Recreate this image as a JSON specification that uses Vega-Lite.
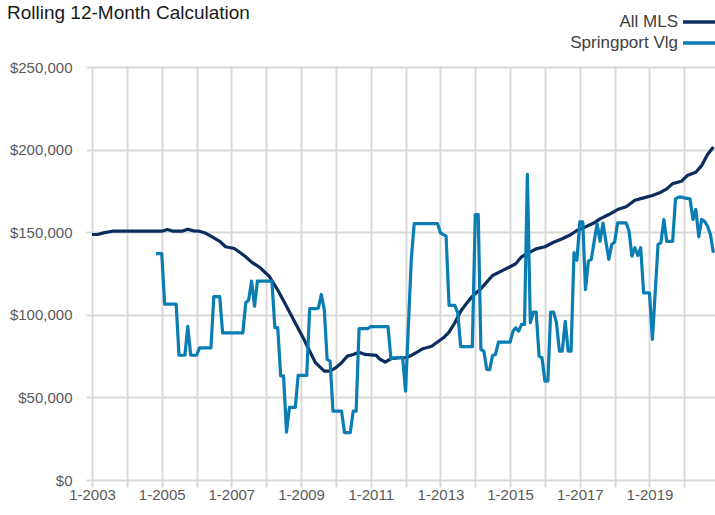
{
  "$schema": "https://vega.github.io/schema/vega-lite/v6.json",
  "autosize": {"type": "none"},
  "padding": {"left": 92, "top": 67, "right": 0, "bottom": 34},
  "width": 623,
  "height": 413,
  "background": "white",
  "config": {"font": "Liberation Sans, Arial, sans-serif", "view": {"stroke": null}},
  "title": {"text": "Rolling 12-Month Calculation", "anchor": "start", "frame": "group", "fontSize": 19, "fontWeight": "normal", "color": "#1a1a1a", "dx": -85, "dy": 11, "offset": 0},
  "data": {"values": [
    {"date":"2003-01-01","series":"All MLS","price":148600},
    {"date":"2003-03-01","series":"All MLS","price":148600},
    {"date":"2003-05-01","series":"All MLS","price":149600},
    {"date":"2003-08-01","series":"All MLS","price":150600},
    {"date":"2005-01-01","series":"All MLS","price":150600},
    {"date":"2005-03-01","series":"All MLS","price":151600},
    {"date":"2005-05-01","series":"All MLS","price":150600},
    {"date":"2005-08-01","series":"All MLS","price":150600},
    {"date":"2005-10-01","series":"All MLS","price":151800},
    {"date":"2005-12-01","series":"All MLS","price":150800},
    {"date":"2006-02-01","series":"All MLS","price":150600},
    {"date":"2006-04-01","series":"All MLS","price":149500},
    {"date":"2006-06-01","series":"All MLS","price":147600},
    {"date":"2006-09-01","series":"All MLS","price":144500},
    {"date":"2006-11-01","series":"All MLS","price":141200},
    {"date":"2007-02-01","series":"All MLS","price":140100},
    {"date":"2007-04-01","series":"All MLS","price":137700},
    {"date":"2007-06-01","series":"All MLS","price":135100},
    {"date":"2007-08-01","series":"All MLS","price":131900},
    {"date":"2007-11-01","series":"All MLS","price":128400},
    {"date":"2008-01-01","series":"All MLS","price":125000},
    {"date":"2008-02-01","series":"All MLS","price":123400},
    {"date":"2008-05-01","series":"All MLS","price":115000},
    {"date":"2008-08-01","series":"All MLS","price":105200},
    {"date":"2008-11-01","series":"All MLS","price":95000},
    {"date":"2009-02-01","series":"All MLS","price":85000},
    {"date":"2009-04-01","series":"All MLS","price":78000},
    {"date":"2009-06-01","series":"All MLS","price":71000},
    {"date":"2009-09-01","series":"All MLS","price":65900},
    {"date":"2009-11-01","series":"All MLS","price":65900},
    {"date":"2010-01-01","series":"All MLS","price":68000},
    {"date":"2010-03-01","series":"All MLS","price":71000},
    {"date":"2010-05-01","series":"All MLS","price":75000},
    {"date":"2010-07-01","series":"All MLS","price":76000},
    {"date":"2010-09-01","series":"All MLS","price":77400},
    {"date":"2010-11-01","series":"All MLS","price":76000},
    {"date":"2011-03-01","series":"All MLS","price":75400},
    {"date":"2011-04-01","series":"All MLS","price":73400},
    {"date":"2011-06-01","series":"All MLS","price":71400},
    {"date":"2011-08-01","series":"All MLS","price":73400},
    {"date":"2011-11-01","series":"All MLS","price":74000},
    {"date":"2012-01-01","series":"All MLS","price":74000},
    {"date":"2012-03-01","series":"All MLS","price":75400},
    {"date":"2012-05-01","series":"All MLS","price":77400},
    {"date":"2012-07-01","series":"All MLS","price":79500},
    {"date":"2012-10-01","series":"All MLS","price":81000},
    {"date":"2012-12-01","series":"All MLS","price":83500},
    {"date":"2013-02-01","series":"All MLS","price":86100},
    {"date":"2013-04-01","series":"All MLS","price":89500},
    {"date":"2013-06-01","series":"All MLS","price":95200},
    {"date":"2013-08-01","series":"All MLS","price":102200},
    {"date":"2013-10-01","series":"All MLS","price":106900},
    {"date":"2013-12-01","series":"All MLS","price":111300},
    {"date":"2014-03-01","series":"All MLS","price":115800},
    {"date":"2014-05-01","series":"All MLS","price":119800},
    {"date":"2014-07-01","series":"All MLS","price":123800},
    {"date":"2014-10-01","series":"All MLS","price":126400},
    {"date":"2015-01-01","series":"All MLS","price":129100},
    {"date":"2015-03-01","series":"All MLS","price":130900},
    {"date":"2015-05-01","series":"All MLS","price":135100},
    {"date":"2015-07-01","series":"All MLS","price":137100},
    {"date":"2015-10-01","series":"All MLS","price":139900},
    {"date":"2016-01-01","series":"All MLS","price":141200},
    {"date":"2016-04-01","series":"All MLS","price":143900},
    {"date":"2016-07-01","series":"All MLS","price":146000},
    {"date":"2016-10-01","series":"All MLS","price":148600},
    {"date":"2016-12-01","series":"All MLS","price":151000},
    {"date":"2017-03-01","series":"All MLS","price":153200},
    {"date":"2017-06-01","series":"All MLS","price":155700},
    {"date":"2017-08-01","series":"All MLS","price":158100},
    {"date":"2017-11-01","series":"All MLS","price":160700},
    {"date":"2018-02-01","series":"All MLS","price":163700},
    {"date":"2018-05-01","series":"All MLS","price":165400},
    {"date":"2018-08-01","series":"All MLS","price":169300},
    {"date":"2018-11-01","series":"All MLS","price":170800},
    {"date":"2019-02-01","series":"All MLS","price":172200},
    {"date":"2019-05-01","series":"All MLS","price":174200},
    {"date":"2019-07-01","series":"All MLS","price":176200},
    {"date":"2019-09-01","series":"All MLS","price":179400},
    {"date":"2019-12-01","series":"All MLS","price":180800},
    {"date":"2020-02-01","series":"All MLS","price":184300},
    {"date":"2020-05-01","series":"All MLS","price":186300},
    {"date":"2020-07-01","series":"All MLS","price":190300},
    {"date":"2020-09-01","series":"All MLS","price":197000},
    {"date":"2020-11-01","series":"All MLS","price":201600},
    {"date":"2004-11-01","series":"Springport Vlg","price":137000},
    {"date":"2004-12-01","series":"Springport Vlg","price":137000},
    {"date":"2005-01-01","series":"Springport Vlg","price":137000},
    {"date":"2005-02-01","series":"Springport Vlg","price":106500},
    {"date":"2005-03-01","series":"Springport Vlg","price":106500},
    {"date":"2005-04-01","series":"Springport Vlg","price":106500},
    {"date":"2005-05-01","series":"Springport Vlg","price":106500},
    {"date":"2005-06-01","series":"Springport Vlg","price":106500},
    {"date":"2005-07-01","series":"Springport Vlg","price":75500},
    {"date":"2005-08-01","series":"Springport Vlg","price":75500},
    {"date":"2005-09-01","series":"Springport Vlg","price":75500},
    {"date":"2005-10-01","series":"Springport Vlg","price":93000},
    {"date":"2005-11-01","series":"Springport Vlg","price":75500},
    {"date":"2005-12-01","series":"Springport Vlg","price":75500},
    {"date":"2006-01-01","series":"Springport Vlg","price":75500},
    {"date":"2006-02-01","series":"Springport Vlg","price":80000},
    {"date":"2006-03-01","series":"Springport Vlg","price":80000},
    {"date":"2006-04-01","series":"Springport Vlg","price":80000},
    {"date":"2006-05-01","series":"Springport Vlg","price":80000},
    {"date":"2006-06-01","series":"Springport Vlg","price":80000},
    {"date":"2006-07-01","series":"Springport Vlg","price":111000},
    {"date":"2006-08-01","series":"Springport Vlg","price":111000},
    {"date":"2006-09-01","series":"Springport Vlg","price":111000},
    {"date":"2006-10-01","series":"Springport Vlg","price":89000},
    {"date":"2006-11-01","series":"Springport Vlg","price":89000},
    {"date":"2006-12-01","series":"Springport Vlg","price":89000},
    {"date":"2007-01-01","series":"Springport Vlg","price":89000},
    {"date":"2007-02-01","series":"Springport Vlg","price":89000},
    {"date":"2007-03-01","series":"Springport Vlg","price":89000},
    {"date":"2007-04-01","series":"Springport Vlg","price":89000},
    {"date":"2007-05-01","series":"Springport Vlg","price":89000},
    {"date":"2007-06-01","series":"Springport Vlg","price":107300},
    {"date":"2007-07-01","series":"Springport Vlg","price":108900},
    {"date":"2007-08-01","series":"Springport Vlg","price":120400},
    {"date":"2007-09-01","series":"Springport Vlg","price":105200},
    {"date":"2007-10-01","series":"Springport Vlg","price":120400},
    {"date":"2007-11-01","series":"Springport Vlg","price":120400},
    {"date":"2007-12-01","series":"Springport Vlg","price":120400},
    {"date":"2008-01-01","series":"Springport Vlg","price":120400},
    {"date":"2008-02-01","series":"Springport Vlg","price":120400},
    {"date":"2008-03-01","series":"Springport Vlg","price":120400},
    {"date":"2008-04-01","series":"Springport Vlg","price":92200},
    {"date":"2008-05-01","series":"Springport Vlg","price":92200},
    {"date":"2008-06-01","series":"Springport Vlg","price":63000},
    {"date":"2008-07-01","series":"Springport Vlg","price":63000},
    {"date":"2008-08-01","series":"Springport Vlg","price":29000},
    {"date":"2008-09-01","series":"Springport Vlg","price":44000},
    {"date":"2008-10-01","series":"Springport Vlg","price":44000},
    {"date":"2008-11-01","series":"Springport Vlg","price":44000},
    {"date":"2008-12-01","series":"Springport Vlg","price":63300},
    {"date":"2009-01-01","series":"Springport Vlg","price":63300},
    {"date":"2009-02-01","series":"Springport Vlg","price":63300},
    {"date":"2009-03-01","series":"Springport Vlg","price":63300},
    {"date":"2009-04-01","series":"Springport Vlg","price":103700},
    {"date":"2009-05-01","series":"Springport Vlg","price":103700},
    {"date":"2009-06-01","series":"Springport Vlg","price":103700},
    {"date":"2009-07-01","series":"Springport Vlg","price":104000},
    {"date":"2009-08-01","series":"Springport Vlg","price":112300},
    {"date":"2009-09-01","series":"Springport Vlg","price":103200},
    {"date":"2009-10-01","series":"Springport Vlg","price":73000},
    {"date":"2009-11-01","series":"Springport Vlg","price":72000},
    {"date":"2009-12-01","series":"Springport Vlg","price":41700},
    {"date":"2010-01-01","series":"Springport Vlg","price":41700},
    {"date":"2010-02-01","series":"Springport Vlg","price":41700},
    {"date":"2010-03-01","series":"Springport Vlg","price":41700},
    {"date":"2010-04-01","series":"Springport Vlg","price":28700},
    {"date":"2010-05-01","series":"Springport Vlg","price":28700},
    {"date":"2010-06-01","series":"Springport Vlg","price":28700},
    {"date":"2010-07-01","series":"Springport Vlg","price":41700},
    {"date":"2010-08-01","series":"Springport Vlg","price":41700},
    {"date":"2010-09-01","series":"Springport Vlg","price":91600},
    {"date":"2010-10-01","series":"Springport Vlg","price":91600},
    {"date":"2010-11-01","series":"Springport Vlg","price":91600},
    {"date":"2010-12-01","series":"Springport Vlg","price":91600},
    {"date":"2011-01-01","series":"Springport Vlg","price":92800},
    {"date":"2011-02-01","series":"Springport Vlg","price":92800},
    {"date":"2011-03-01","series":"Springport Vlg","price":92800},
    {"date":"2011-04-01","series":"Springport Vlg","price":92800},
    {"date":"2011-05-01","series":"Springport Vlg","price":92800},
    {"date":"2011-06-01","series":"Springport Vlg","price":92800},
    {"date":"2011-07-01","series":"Springport Vlg","price":92800},
    {"date":"2011-08-01","series":"Springport Vlg","price":73400},
    {"date":"2011-09-01","series":"Springport Vlg","price":74000},
    {"date":"2011-10-01","series":"Springport Vlg","price":74000},
    {"date":"2011-11-01","series":"Springport Vlg","price":74000},
    {"date":"2011-12-01","series":"Springport Vlg","price":74000},
    {"date":"2012-01-01","series":"Springport Vlg","price":53800},
    {"date":"2012-03-01","series":"Springport Vlg","price":133500},
    {"date":"2012-04-01","series":"Springport Vlg","price":155200},
    {"date":"2012-05-01","series":"Springport Vlg","price":155200},
    {"date":"2012-06-01","series":"Springport Vlg","price":155200},
    {"date":"2012-07-01","series":"Springport Vlg","price":155200},
    {"date":"2012-08-01","series":"Springport Vlg","price":155200},
    {"date":"2012-09-01","series":"Springport Vlg","price":155200},
    {"date":"2012-10-01","series":"Springport Vlg","price":155200},
    {"date":"2012-11-01","series":"Springport Vlg","price":155200},
    {"date":"2012-12-01","series":"Springport Vlg","price":155200},
    {"date":"2013-01-01","series":"Springport Vlg","price":149600},
    {"date":"2013-02-01","series":"Springport Vlg","price":148500},
    {"date":"2013-03-01","series":"Springport Vlg","price":147600},
    {"date":"2013-04-01","series":"Springport Vlg","price":105700},
    {"date":"2013-05-01","series":"Springport Vlg","price":105700},
    {"date":"2013-06-01","series":"Springport Vlg","price":105700},
    {"date":"2013-07-01","series":"Springport Vlg","price":101200},
    {"date":"2013-08-01","series":"Springport Vlg","price":80700},
    {"date":"2013-09-01","series":"Springport Vlg","price":80700},
    {"date":"2013-10-01","series":"Springport Vlg","price":80700},
    {"date":"2013-11-01","series":"Springport Vlg","price":80700},
    {"date":"2013-12-01","series":"Springport Vlg","price":80700},
    {"date":"2014-01-01","series":"Springport Vlg","price":160700},
    {"date":"2014-02-01","series":"Springport Vlg","price":160700},
    {"date":"2014-03-01","series":"Springport Vlg","price":79000},
    {"date":"2014-04-01","series":"Springport Vlg","price":78000},
    {"date":"2014-05-01","series":"Springport Vlg","price":67000},
    {"date":"2014-06-01","series":"Springport Vlg","price":66800},
    {"date":"2014-07-01","series":"Springport Vlg","price":75400},
    {"date":"2014-08-01","series":"Springport Vlg","price":76000},
    {"date":"2014-09-01","series":"Springport Vlg","price":83500},
    {"date":"2014-10-01","series":"Springport Vlg","price":83500},
    {"date":"2014-11-01","series":"Springport Vlg","price":83500},
    {"date":"2014-12-01","series":"Springport Vlg","price":83500},
    {"date":"2015-01-01","series":"Springport Vlg","price":83500},
    {"date":"2015-02-01","series":"Springport Vlg","price":90100},
    {"date":"2015-03-01","series":"Springport Vlg","price":92200},
    {"date":"2015-04-01","series":"Springport Vlg","price":90100},
    {"date":"2015-05-01","series":"Springport Vlg","price":94200},
    {"date":"2015-06-01","series":"Springport Vlg","price":94200},
    {"date":"2015-07-01","series":"Springport Vlg","price":185000},
    {"date":"2015-08-01","series":"Springport Vlg","price":95200},
    {"date":"2015-09-01","series":"Springport Vlg","price":101600},
    {"date":"2015-10-01","series":"Springport Vlg","price":101600},
    {"date":"2015-11-01","series":"Springport Vlg","price":75000},
    {"date":"2015-12-01","series":"Springport Vlg","price":74000},
    {"date":"2016-01-01","series":"Springport Vlg","price":59900},
    {"date":"2016-02-01","series":"Springport Vlg","price":59900},
    {"date":"2016-03-01","series":"Springport Vlg","price":101600},
    {"date":"2016-04-01","series":"Springport Vlg","price":101600},
    {"date":"2016-05-01","series":"Springport Vlg","price":95200},
    {"date":"2016-06-01","series":"Springport Vlg","price":78000},
    {"date":"2016-07-01","series":"Springport Vlg","price":78000},
    {"date":"2016-08-01","series":"Springport Vlg","price":96000},
    {"date":"2016-09-01","series":"Springport Vlg","price":78000},
    {"date":"2016-10-01","series":"Springport Vlg","price":78000},
    {"date":"2016-11-01","series":"Springport Vlg","price":137700},
    {"date":"2016-12-01","series":"Springport Vlg","price":133000},
    {"date":"2017-01-01","series":"Springport Vlg","price":156300},
    {"date":"2017-02-01","series":"Springport Vlg","price":156300},
    {"date":"2017-03-01","series":"Springport Vlg","price":115300},
    {"date":"2017-04-01","series":"Springport Vlg","price":132500},
    {"date":"2017-05-01","series":"Springport Vlg","price":133500},
    {"date":"2017-07-01","series":"Springport Vlg","price":155200},
    {"date":"2017-08-01","series":"Springport Vlg","price":144500},
    {"date":"2017-09-01","series":"Springport Vlg","price":155500},
    {"date":"2017-10-01","series":"Springport Vlg","price":144500},
    {"date":"2017-11-01","series":"Springport Vlg","price":133500},
    {"date":"2017-12-01","series":"Springport Vlg","price":142600},
    {"date":"2018-01-01","series":"Springport Vlg","price":144000},
    {"date":"2018-02-01","series":"Springport Vlg","price":155700},
    {"date":"2018-03-01","series":"Springport Vlg","price":155700},
    {"date":"2018-04-01","series":"Springport Vlg","price":155700},
    {"date":"2018-05-01","series":"Springport Vlg","price":155700},
    {"date":"2018-06-01","series":"Springport Vlg","price":150600},
    {"date":"2018-07-01","series":"Springport Vlg","price":135500},
    {"date":"2018-08-01","series":"Springport Vlg","price":140600},
    {"date":"2018-09-01","series":"Springport Vlg","price":135900},
    {"date":"2018-10-01","series":"Springport Vlg","price":140600},
    {"date":"2018-11-01","series":"Springport Vlg","price":113300},
    {"date":"2018-12-01","series":"Springport Vlg","price":113300},
    {"date":"2019-01-01","series":"Springport Vlg","price":113300},
    {"date":"2019-02-01","series":"Springport Vlg","price":85100},
    {"date":"2019-04-01","series":"Springport Vlg","price":142600},
    {"date":"2019-05-01","series":"Springport Vlg","price":143600},
    {"date":"2019-06-01","series":"Springport Vlg","price":157700},
    {"date":"2019-07-01","series":"Springport Vlg","price":144500},
    {"date":"2019-08-01","series":"Springport Vlg","price":144500},
    {"date":"2019-09-01","series":"Springport Vlg","price":144500},
    {"date":"2019-10-01","series":"Springport Vlg","price":170200},
    {"date":"2019-11-01","series":"Springport Vlg","price":171200},
    {"date":"2019-12-01","series":"Springport Vlg","price":171200},
    {"date":"2020-01-01","series":"Springport Vlg","price":170800},
    {"date":"2020-02-01","series":"Springport Vlg","price":170500},
    {"date":"2020-03-01","series":"Springport Vlg","price":170200},
    {"date":"2020-04-01","series":"Springport Vlg","price":157700},
    {"date":"2020-05-01","series":"Springport Vlg","price":163700},
    {"date":"2020-06-01","series":"Springport Vlg","price":147200},
    {"date":"2020-07-01","series":"Springport Vlg","price":157700},
    {"date":"2020-08-01","series":"Springport Vlg","price":156600},
    {"date":"2020-09-01","series":"Springport Vlg","price":153600},
    {"date":"2020-10-01","series":"Springport Vlg","price":148600},
    {"date":"2020-11-01","series":"Springport Vlg","price":137500}
  ]},
  "mark": {"type": "line", "strokeWidth": 3.2, "strokeJoin": "round", "clip": true},
  "encoding": {
    "x": {
      "field": "date", "type": "temporal",
      "scale": {"type": "utc", "domain": [{"year": 2003, "month": 1, "date": 1, "utc": true}, {"year": 2020, "month": 11, "date": 18, "utc": true}]},
      "axis": {
        "title": null,
        "values": [
          {"year": 2003, "month": 1, "date": 1, "utc": true},
          {"year": 2004, "month": 1, "date": 1, "utc": true},
          {"year": 2005, "month": 1, "date": 1, "utc": true},
          {"year": 2006, "month": 1, "date": 1, "utc": true},
          {"year": 2007, "month": 1, "date": 1, "utc": true},
          {"year": 2008, "month": 1, "date": 1, "utc": true},
          {"year": 2009, "month": 1, "date": 1, "utc": true},
          {"year": 2010, "month": 1, "date": 1, "utc": true},
          {"year": 2011, "month": 1, "date": 1, "utc": true},
          {"year": 2012, "month": 1, "date": 1, "utc": true},
          {"year": 2013, "month": 1, "date": 1, "utc": true},
          {"year": 2014, "month": 1, "date": 1, "utc": true},
          {"year": 2015, "month": 1, "date": 1, "utc": true},
          {"year": 2016, "month": 1, "date": 1, "utc": true},
          {"year": 2017, "month": 1, "date": 1, "utc": true},
          {"year": 2018, "month": 1, "date": 1, "utc": true},
          {"year": 2019, "month": 1, "date": 1, "utc": true},
          {"year": 2020, "month": 1, "date": 1, "utc": true}
        ],
        "format": "%-m-%Y",
        "labelExpr": "utcyear(datum.value) % 2 == 1 ? datum.label : ''",
        "domain": false,
        "grid": true, "gridColor": "#d9d9d9", "gridWidth": 2,
        "ticks": true, "tickSize": 7, "tickColor": "#d9d9d9", "tickWidth": 2,
        "labelFontSize": 15, "labelColor": "#595959", "labelPadding": 0,
        "labelOverlap": false, "labelFlush": false, "labelBound": false
      }
    },
    "y": {
      "field": "price", "type": "quantitative",
      "scale": {"domain": [0, 250000], "nice": false, "zero": true},
      "axis": {
        "title": null,
        "values": [0, 50000, 100000, 150000, 200000, 250000],
        "format": "$,.0f",
        "domain": false,
        "grid": true, "gridColor": "#d9d9d9", "gridWidth": 2,
        "ticks": true, "tickSize": 6, "tickColor": "#d9d9d9", "tickWidth": 2,
        "labelFontSize": 15, "labelColor": "#595959", "labelPadding": 14
      }
    },
    "color": {
      "field": "series", "type": "nominal",
      "scale": {"domain": ["All MLS", "Springport Vlg"], "range": ["#0b2d5e", "#0a7db3"]},
      "legend": {
        "title": null, "orient": "none", "legendX": 597, "legendY": -55, "direction": "vertical",
        "symbolType": "M-2,0H2", "symbolSize": 256, "symbolStrokeWidth": 3.5,
        "labelFontSize": 17, "labelColor": "#404040", "labelAlign": "right", "labelOffset": -31,
        "rowPadding": 3, "padding": 0
      }
    }
  }
}
